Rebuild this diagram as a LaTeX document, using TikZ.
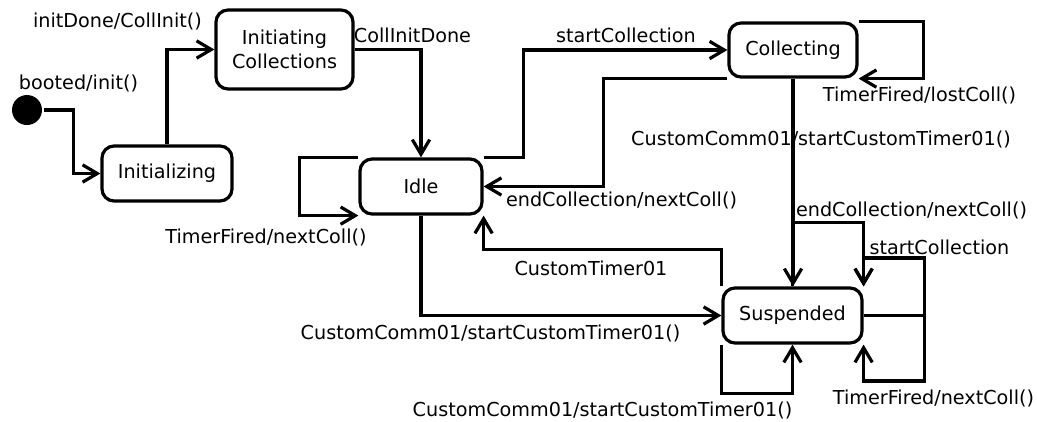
\documentclass[tikz,border=0pt]{standalone}
\usepackage{fontspec}
\setmainfont{DejaVu Sans}
\usetikzlibrary{arrows.meta}

\begin{document}
\begin{tikzpicture}[x=0.75pt,y=-0.75pt,line width=2.4pt,
        >={Straight Barb[length=11pt,width=13pt]},
        estado/.style={draw,rounded corners=9pt,inner sep=0pt,align=center},
        etiqueta/.style={inner sep=0pt}]
        \fontsize{14.4}{18}\selectfont
        \useasboundingbox (0,0) rectangle (1037,421);

        %estados
        \node[circle,fill,inner sep=0pt,minimum size=22.5pt] (inicio) at (27,110) {};
        \node[estado,minimum width=97.5pt,minimum height=41.25pt] (ini) at (167,173.5) {Initializing};
        \node[estado,minimum width=102.75pt,minimum height=59.25pt] (icoll) at (284.5,49.5) {Initiating\\Collections};
        \node[estado,minimum width=91.5pt,minimum height=41.25pt] (idle) at (421,186.5) {Idle};
        \node[estado,minimum width=96pt,minimum height=40.5pt] (coll) at (793,50) {Collecting};
        \node[estado,minimum width=104.25pt,minimum height=41.25pt] (susp) at (792.5,315.5) {Suspended};

        %transiciones
        \draw[->] (inicio.east) -- ++(30,0) |- (ini.west);
        \draw[->] (ini.north) |- (icoll.west);
        \draw[->] (icoll.east) -| (idle.north);
        \draw[->] (idle.north west) -- ++(-59,0) |- (idle.south west);
        \draw[->] (idle.north east) -- ++(40,0) |- (coll.west);
        \draw[->] (coll.south west) -- ++(-124,0) |- (idle.east);
        \draw[->] (coll.north east) -- ++(65,0) |- (coll.south east);
        \draw[->] (coll.south) -- (coll.south |- susp.north);
        \draw[->] (idle.south) |- (susp.west);
        \draw[->] (susp.north west) -- ++(0,-37) -| (idle.south east);
        \draw[->] (susp.north) -- ++(0,-64) -| (susp.north east);
        \draw[->] (susp.east) -- ++(61,0) -- ++(0,-57.5) -| (susp.north east);
        \draw[->] (susp.east) -- ++(61,0) -- ++(0,65.5) -| (susp.south east);
        \draw[->] (susp.south west) -- ++(0,49) -| (susp.south);

        %textos
        \node[etiqueta] (tbooted) at (78.5,83) {booted/init()};
        \node[etiqueta] (tinit) at (117.5,21) {initDone/CollInit()};
        \node[etiqueta] (tcinit) at (412.5,35) {CollInitDone};
        \node[etiqueta] (tidle) at (266,237) {TimerFired/nextColl()};
        \node[etiqueta] (tstart) at (626,35) {startCollection};
        \node[etiqueta] (tend) at (621.5,200) {endCollection/nextColl()};
        \node[etiqueta] (tlost) at (919.5,95) {TimerFired/lostColl()};
        \node[etiqueta] (tcomm) at (821,139) {CustomComm01/startCustomTimer01()};
        \node[etiqueta] (tendb) at (911.5,210) {endCollection/nextColl()};
        \node[etiqueta] (tstartb) at (939.5,247) {startCollection};
        \node[etiqueta] (ttimer) at (591,268) {CustomTimer01};
        \node[etiqueta] (tcommb) at (490.5,333) {CustomComm01/startCustomTimer01()};
        \node[etiqueta] (tcommc) at (602.5,410) {CustomComm01/startCustomTimer01()};
        \node[etiqueta] (tnext) at (933.5,398) {TimerFired/nextColl()};
    \end{tikzpicture}
\end{document}
